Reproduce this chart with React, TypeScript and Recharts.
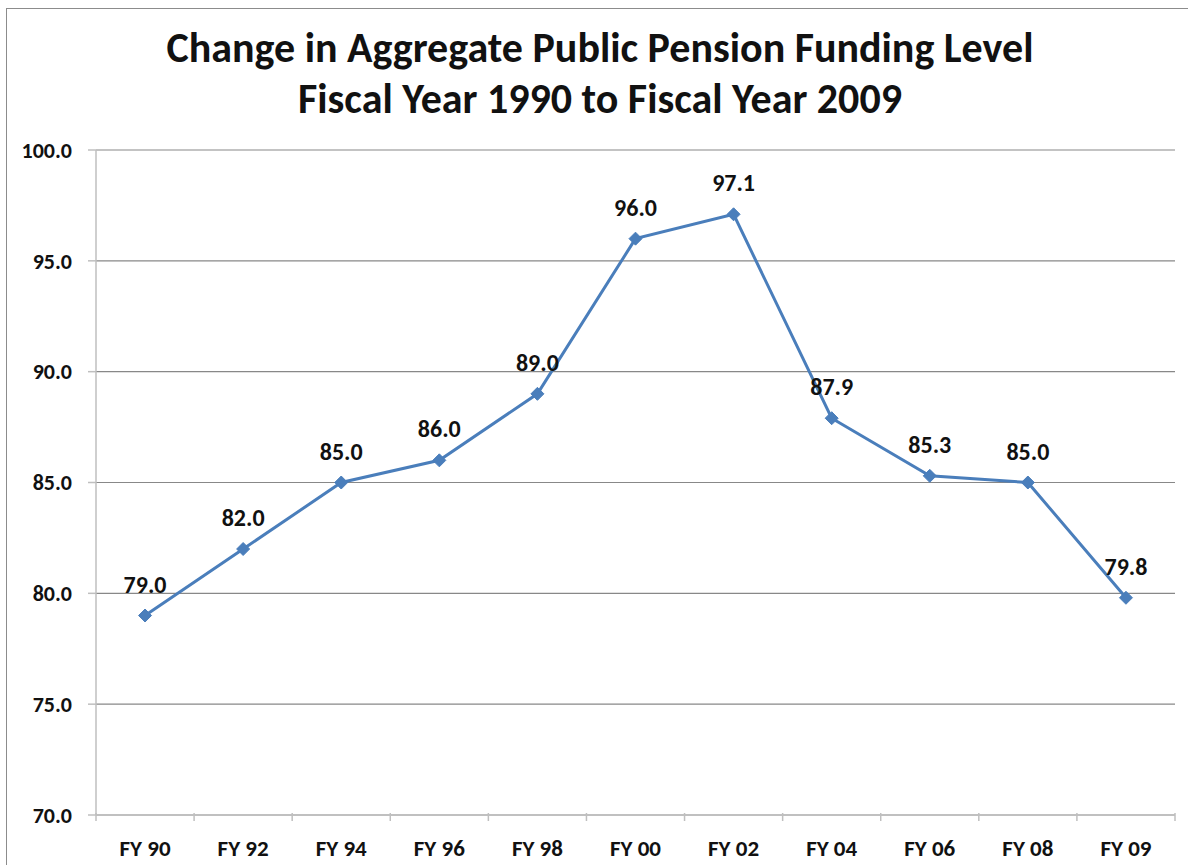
import { LineChart, Line, XAxis, YAxis, CartesianGrid, LabelList } from 'recharts'

const years = ['FY 90', 'FY 92', 'FY 94', 'FY 96', 'FY 98', 'FY 00', 'FY 02', 'FY 04', 'FY 06', 'FY 08', 'FY 09']
const funding = [79.0, 82.0, 85.0, 86.0, 89.0, 96.0, 97.1, 87.9, 85.3, 85.0, 79.8]
const yTicks = [70, 75, 80, 85, 90, 95, 100]

const data = years.map((year, i) => ({ year, funding: funding[i] }))

const FONT = 'Carlito, Lato, "Noto Sans", sans-serif'
const BLUE = '#4a7ebb'
const W = 1188
const H = 865
const MARGIN = { top: 150, right: 13, bottom: 0, left: 0 }
const BAND = (W - 96 - MARGIN.right) / years.length

function Diamond(props: any) {
  const { cx, cy } = props
  if (cx == null || cy == null) return null
  const r = 6.5
  return <polygon points={`${cx},${cy - r} ${cx + r},${cy} ${cx},${cy + r} ${cx - r},${cy}`} fill={BLUE} stroke={BLUE} />
}

function XTick(props: any) {
  const { x, y, payload, index } = props
  const top = y - 8
  const left = x - BAND / 2
  return (
    <g>
      <line x1={left} y1={top - 2} x2={left} y2={top + 6} stroke="#bfbfbf" strokeWidth={1.5} />
      {index === years.length - 1 && (
        <line x1={x + BAND / 2} y1={top - 2} x2={x + BAND / 2} y2={top + 6} stroke="#bfbfbf" strokeWidth={1.5} />
      )}
      <text x={x} y={top + 41} textAnchor="middle" fontFamily={FONT} fontWeight="bold" fontSize={23} fill="#111">
        {payload.value}
      </text>
    </g>
  )
}

export default function App() {
  return (
    <div style={{ position: 'absolute', left: 0, top: 0, width: W, height: H, overflow: 'hidden', background: '#fff' }}>
      <div style={{ position: 'absolute', left: 6, top: 8, width: 1300, height: 1000, border: '1.5px solid #8c8c8c' }} />
      <svg width={W} height={140} style={{ position: 'absolute', left: 0, top: 0 }}>
        <text x={600} y={62} textAnchor="middle" fontFamily={FONT} fontWeight="bold" fontSize={42} fill="#111">
          Change in Aggregate Public Pension Funding Level
        </text>
        <text x={600} y={113} textAnchor="middle" fontFamily={FONT} fontWeight="bold" fontSize={42} fill="#111">
          Fiscal Year 1990 to Fiscal Year 2009
        </text>
      </svg>
      <div style={{ position: 'absolute', left: 0, top: 0 }}>
        <LineChart width={W} height={H} data={data} margin={MARGIN}>
          <CartesianGrid vertical={false} stroke="#888" strokeWidth={1.2} />
          <XAxis
            dataKey="year"
            height={50}
            padding={{ left: BAND / 2, right: BAND / 2 }}
            axisLine={{ stroke: '#bfbfbf', strokeWidth: 1.5 }}
            tickLine={false}
            tick={<XTick />}
            interval={0}
          />
          <YAxis
            domain={[70, 100]}
            ticks={yTicks}
            width={96}
            tickFormatter={(v: number) => v.toFixed(1)}
            axisLine={{ stroke: '#bfbfbf', strokeWidth: 1.5 }}
            tickLine={{ stroke: '#bfbfbf', strokeWidth: 1.5 }}
            tickSize={8}
            tickMargin={16}
            tick={{ fontFamily: FONT, fontWeight: 'bold', fontSize: 22, fill: '#111' }}
          />
          <Line
            dataKey="funding"
            stroke={BLUE}
            strokeWidth={3}
            dot={<Diamond />}
            activeDot={false}
            isAnimationActive={false}
          >
            <LabelList
              dataKey="funding"
              position="top"
              offset={23}
              formatter={(v: any) => Number(v).toFixed(1)}
              style={{ fontFamily: FONT, fontWeight: 'bold', fontSize: 24, fill: '#111' }}
            />
          </Line>
        </LineChart>
      </div>
    </div>
  )
}
